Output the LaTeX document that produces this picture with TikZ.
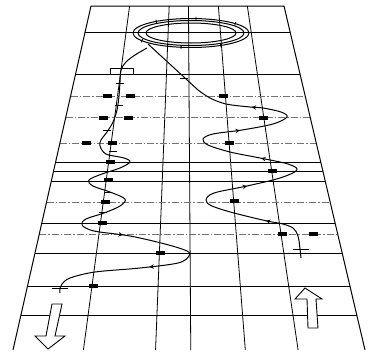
\documentclass[tikz,border=0pt]{standalone}
\usetikzlibrary{calc,decorations.markings}
\begin{document}
\begin{tikzpicture}[
    x=1pt, y=-1pt,
    gridline/.style={line width=0.8pt},
    lapline/.style={line width=0.6pt, black!55, dash pattern=on 7pt off 2pt on 1.5pt off 2pt},
    edgeline/.style={line width=1pt},
    track/.style={line width=1pt, line join=round},
    flag/.style={line width=0.9pt},
    bigarrow/.style={line width=0.9pt, fill=white, line join=miter},
    >=stealth
]
    \useasboundingbox (0,0) rectangle (369,356);
    \coordinate (TL) at (91,6);
    \coordinate (TR) at (284,6);
    \coordinate (BL) at (13,350);
    \coordinate (BR) at (365,350);

    % perspective grid
    \foreach \f in {0.2,0.405,0.505,0.66,0.81}
        \draw[gridline] ($(TL)!\f!(TR)$) -- ($(BL)!\f!(BR)$);
    \foreach \y in {32,74,162,171,181,223,253,286,315} {
        \pgfmathsetmacro\ty{(\y-6)/344}
        \draw[gridline] ($(TL)!\ty!(BL)$) -- ($(TR)!\ty!(BR)$);
    }
    \foreach \y in {96,117,143,202,234} {
        \pgfmathsetmacro\ty{(\y-6)/344}
        \draw[lapline] ($(TL)!\ty!(BL)$) -- ($(TR)!\ty!(BR)$);
    }
    \draw[edgeline] (BL) -- (TL) -- (TR) -- (BR);

    % oval at the top
    \draw[track, postaction={decorate}, decoration={markings,
        mark=between positions 0.07 and 1 step 0.16 with {\draw[flag] (0,-1.8) -- (0,1.8);}}]
        (191,33) ellipse [x radius=58pt, y radius=14.5pt];
    \draw[track] (191,33) ellipse [x radius=53pt, y radius=12.5pt];
    \draw[track] (191,33) ellipse [x radius=45pt, y radius=10pt];

    % way up
    \draw[track, postaction={decorate}, decoration={markings,
        mark=at position 60pt with {\arrow{>}},
        mark=at position 170pt with {\arrow{>}},
        mark=at position 262pt with {\arrow{>}},
        mark=at position 364pt with {\arrow{>}},
        mark=at position 452pt with {\arrow{>}}}]
        plot[smooth, tension=0.55] coordinates {(301,258) (300,249) (298,236) (293,228) (281,223.5)
        (267,221) (234,213) (212,206) (206,200) (214,193) (247,186) (280,178) (297,170)
        (288,164) (260,158) (230,152) (208,145) (203,139) (213,134) (242,130) (273,124)
        (287,117) (281,112) (263,108) (250,107) (226,104) (210,98) (198,90)} -- (148,44);

    % way down
    \draw[track, postaction={decorate}, decoration={markings,
        mark=at position 337pt with {\arrow{>}},
        mark=at position 452pt with {\arrow{>}}}]
        plot[smooth, tension=0.55] coordinates {(147,48) (135,55) (126,62) (121,70) (120,82)
        (119,96) (117,110) (113,122) (107,132) (101,140) (100,146) (106,154) (124,158)
        (130,162) (120,168) (102,174) (89,180) (93,186) (110,192) (125,199) (120,206)
        (104,213) (86,219) (82,225) (94,231) (130,236) (165,244) (187,251) (189,256)
        (178,263) (140,268) (95,272) (70,278) (62,284) (60,288) (60,293)};

    % marks on the course
    \draw[flag] (110,74) -- (110,68) -- (133,68) -- (133,74);
    \foreach \x/\y in {120/83,119/105,107/130,113/151,108/192,103/212,184/78}
        \draw[flag] (\x-4,\y) -- (\x+4,\y);
    \draw[flag] (52,288) -- (68,288);
    \draw[flag] (293,249) -- (309,249);
    \foreach \x/\y in {107/96,130/96,103/118,128/118,86/143,112/143,110/162,108/180,
        105/202,102/223,160/253,93/286,223/96,263/118,229/143,272/171,234/201,282/234,313/234}
        \fill (\x-4.5,\y-1.9) rectangle ++(9,3.8);

    % start and finish arrows
    \draw[bigarrow] (52,304) -- (62,304) -- (55,336) -- (65,336) -- (48,349) -- (35,336) -- (46,336) -- cycle;
    \draw[bigarrow] (305,288) -- (322,299) -- (316,299) -- (318,328) -- (308,328) -- (307,299) -- (295,299) -- cycle;
\end{tikzpicture}
\end{document}
